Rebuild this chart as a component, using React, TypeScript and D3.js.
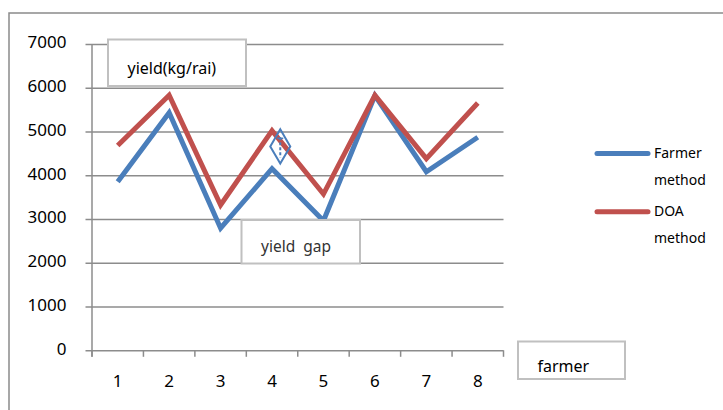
import React, { useRef, useEffect } from 'react';
import * as d3 from 'd3';

// farmers along the x axis
const farmers = ['1', '2', '3', '4', '5', '6', '7', '8'];
// yield (kg/rai) per farmer
const farmerMethod = [3850, 5430, 2790, 4150, 2960, 5820, 4080, 4870];
const doaMethod = [4680, 5830, 3320, 5020, 3570, 5830, 4380, 5650];
const yTicks = [0, 1000, 2000, 3000, 4000, 5000, 6000, 7000];
// yield gap marker drawn near farmer 4
const gapMarker = { farmer: '4', high: 5050, low: 4270 };

const series = [
  { name: ['Farmer', 'method'], values: farmerMethod, color: '#4a7ebb' },
  { name: ['DOA', 'method'], values: doaMethod, color: '#c0504d' },
];

const App: React.FC = () => {
  const svgRef = useRef<SVGSVGElement>(null);

  useEffect(() => {
    if (!svgRef.current) return;
    const width = 723;
    const height = 410;
    const font = '"Noto Sans", "DejaVu Sans", sans-serif';
    const grid = '#8c8c8c';

    const svg = d3.select(svgRef.current);
    svg.selectAll('*').remove();
    svg.attr('width', width).attr('height', height);

    // outer chart frame (runs off the right and bottom)
    svg.append('rect')
      .attr('x', 9).attr('y', 13)
      .attr('width', 800).attr('height', 500)
      .attr('fill', 'white')
      .attr('stroke', '#8a8a8a')
      .attr('stroke-width', 1.5);

    const plot = { left: 92, right: 503.5, top: 44, bottom: 350.3 };

    const x = d3.scaleBand<string>()
      .domain(farmers)
      .range([plot.left, plot.right]);

    const y = d3.scaleLinear()
      .domain([0, 7000])
      .range([plot.bottom, plot.top]);

    // horizontal gridlines + y tick labels
    const yAxis = svg.append('g')
      .attr('transform', `translate(${plot.left},0)`)
      .call(
        d3.axisLeft(y)
          .tickValues(yTicks)
          .tickSize(-(plot.right - plot.left))
          .tickSizeOuter(0)
          .tickPadding(0)
          .tickFormat(d => String(d))
      );
    yAxis.select('.domain').remove();
    yAxis.selectAll('.tick line')
      .attr('x1', -6.5)
      .attr('stroke', grid)
      .attr('stroke-width', 1.5);
    yAxis.selectAll('.tick text')
      .attr('x', -25.5)
      .attr('dy', '0.22em')
      .attr('fill', '#000')
      .attr('font-family', font)
      .attr('font-size', 17);

    // vertical axis line
    svg.append('line')
      .attr('x1', plot.left).attr('x2', plot.left)
      .attr('y1', plot.top).attr('y2', plot.bottom + 6.5)
      .attr('stroke', grid)
      .attr('stroke-width', 1.5);

    // x axis: ticks at band edges, labels at band centers
    const edges = farmers.map(f => x(f) as number).concat([plot.right]);
    svg.append('g')
      .selectAll('line')
      .data(edges)
      .join('line')
      .attr('x1', d => d).attr('x2', d => d)
      .attr('y1', plot.bottom).attr('y2', plot.bottom + 6.5)
      .attr('stroke', grid)
      .attr('stroke-width', 1.5);

    svg.append('g')
      .selectAll('text')
      .data(farmers)
      .join('text')
      .attr('x', d => (x(d) as number) + x.bandwidth() / 2)
      .attr('y', 387)
      .attr('text-anchor', 'middle')
      .attr('font-family', font)
      .attr('font-size', 17)
      .attr('fill', '#000')
      .text(d => d);

    // series lines
    const line = d3.line<number>()
      .x((_, i) => (x(farmers[i]) as number) + x.bandwidth() / 2)
      .y(d => y(d));

    series.forEach(s => {
      svg.append('path')
        .datum(s.values)
        .attr('fill', 'none')
        .attr('stroke', s.color)
        .attr('stroke-width', 5)
        .attr('stroke-linejoin', 'miter')
        .attr('stroke-linecap', 'butt')
        .attr('d', line);
    });

    // yield gap marker (diamond with dashed bar)
    const gx = (x(gapMarker.farmer) as number) + x.bandwidth() * 0.66;
    const gTop = y(gapMarker.high);
    const gBot = y(gapMarker.low);
    const gMid = (gTop + gBot) / 2;
    const gHalfW = 10;
    svg.append('path')
      .attr('d', `M${gx},${gTop}L${gx + gHalfW},${gMid}L${gx},${gBot}L${gx - gHalfW},${gMid}Z`)
      .attr('fill', 'none')
      .attr('stroke', '#4a7ebb')
      .attr('stroke-width', 2);
    svg.append('line')
      .attr('x1', gx).attr('x2', gx)
      .attr('y1', gTop + 8).attr('y2', gBot - 6)
      .attr('stroke', '#4a7ebb')
      .attr('stroke-width', 2)
      .attr('stroke-dasharray', '3,2');
    svg.append('line')
      .attr('x1', gx - 3).attr('x2', gx + 3)
      .attr('y1', gTop + 9).attr('y2', gTop + 9)
      .attr('stroke', '#4a7ebb')
      .attr('stroke-width', 1.5);

    // text boxes
    const boxes = [
      { x: 108, y: 39.5, w: 138, h: 46.5, label: 'yield(kg/rai)', tx: 127.5, ty: 74, size: 16, color: '#000' },
      { x: 241.5, y: 220, w: 118.5, h: 43.5, label: 'yield\u00a0\u00a0gap', tx: 261, ty: 251.5, size: 15.5, color: '#333' },
      { x: 518, y: 341.5, w: 107, h: 37.5, label: 'farmer', tx: 537.5, ty: 372, size: 16, color: '#000' },
    ];
    boxes.forEach(b => {
      svg.append('rect')
        .attr('x', b.x).attr('y', b.y)
        .attr('width', b.w).attr('height', b.h)
        .attr('fill', 'white')
        .attr('stroke', '#c0c0c0')
        .attr('stroke-width', 2);
      svg.append('text')
        .attr('x', b.tx).attr('y', b.ty)
        .attr('font-family', font)
        .attr('font-size', b.size)
        .attr('fill', b.color)
        .text(b.label);
    });

    // legend
    const legend = svg.append('g');
    series.forEach((s, i) => {
      const ly = 153.5 + i * 58.3;
      legend.append('line')
        .attr('x1', 597).attr('x2', 648)
        .attr('y1', ly).attr('y2', ly)
        .attr('stroke', s.color)
        .attr('stroke-width', 5)
        .attr('stroke-linecap', 'round');
      s.name.forEach((t, j) => {
        legend.append('text')
          .attr('x', 654)
          .attr('y', ly + 4.5 + j * 27)
          .attr('font-family', font)
          .attr('font-size', 14)
          .attr('fill', '#000')
          .text(t);
      });
    });
  }, []);

  return (
    <div style={{ position: 'absolute', left: 0, top: 0 }}>
      <svg ref={svgRef} width={723} height={410} style={{ display: 'block' }} />
    </div>
  );
};

export default App;
